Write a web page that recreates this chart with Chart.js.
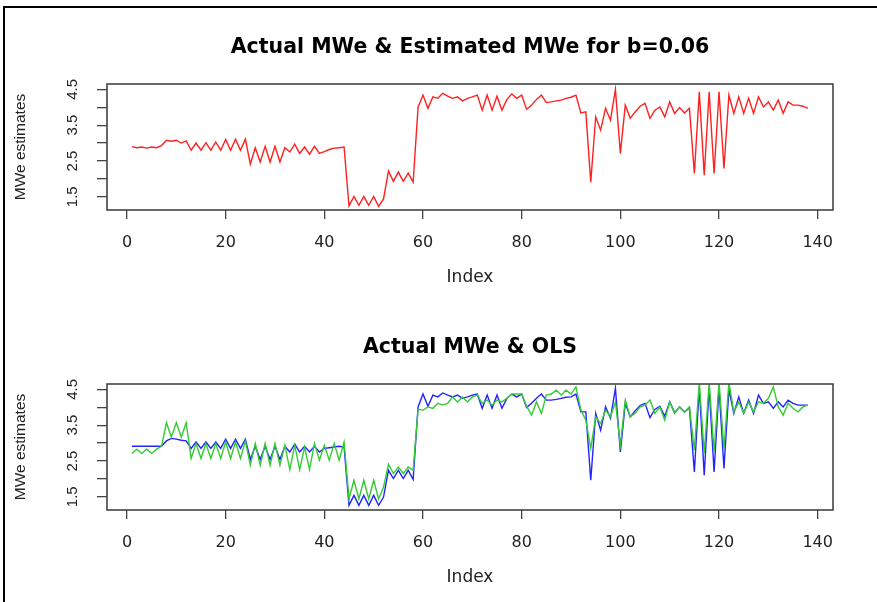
<!DOCTYPE html>
<html>
<head>
<meta charset="utf-8">
<script src="https://cdn.jsdelivr.net/npm/chart.js@4.4.1/dist/chart.umd.min.js"></script>
<style>
  html, body { margin: 0; padding: 0; background: #fff; }
  #page { position: relative; width: 877px; height: 602px; overflow: hidden; background: #fff; }
  #frame { position: absolute; left: 3px; top: 6px; right: -10px; bottom: -10px;
           border-left: 2px solid #000; border-top: 2px solid #000; }
  .panel { position: absolute; left: 0; width: 877px; height: 300px; }
</style>
</head>
<body>
<div id="page">
  <div id="frame"></div>
  <div class="panel" style="top:0px"><canvas id="topChart" width="877" height="300"></canvas></div>
  <div class="panel" style="top:300px"><canvas id="bottomChart" width="877" height="300"></canvas></div>
</div>
<script>
// tick labels
const xTicks = [0, 20, 40, 60, 80, 100, 120, 140];
const yTicks = [1.5, 2, 2.5, 3, 3.5, 4, 4.5];
const yLabels = [1.5, 2.5, 3.5, 4.5];

// estimated MWe (b=0.06), red line of the top panel
const estimatedMWe = [
  2.90, 2.87, 2.89, 2.86, 2.89, 2.87, 2.93, 3.08, 3.05, 3.08,
  3.00, 3.06, 2.80, 3.00, 2.80, 3.01, 2.80, 3.03, 2.80, 3.10,
  2.80, 3.11, 2.80, 3.11, 2.41, 2.87, 2.47, 2.91, 2.47, 2.91,
  2.47, 2.87, 2.75, 2.97, 2.71, 2.89, 2.69, 2.91, 2.71, 2.76,
  2.82, 2.86, 2.87, 2.89, 1.24, 1.51, 1.26, 1.51, 1.26, 1.51,
  1.23, 1.44, 2.22, 1.93, 2.19, 1.93, 2.16, 1.91, 4.00, 4.34,
  3.97, 4.29, 4.25, 4.39, 4.31, 4.25, 4.29, 4.18, 4.25, 4.29,
  4.34, 3.92, 4.34, 3.92, 4.31, 3.92, 4.22, 4.37, 4.25, 4.34,
  3.94, 4.06, 4.22, 4.34, 4.13, 4.15, 4.18, 4.20, 4.25, 4.28,
  4.34, 3.84, 3.87, 1.91, 3.73, 3.36, 3.97, 3.64, 4.50, 2.71,
  4.06, 3.69, 3.87, 4.03, 4.11, 3.69, 3.92, 4.01, 3.73, 4.15,
  3.83, 3.99, 3.84, 3.97, 2.15, 4.43, 2.10, 4.43, 2.15, 4.43,
  2.29, 4.34, 3.83, 4.29, 3.83, 4.25, 3.83, 4.29, 4.01, 4.15,
  3.92, 4.20, 3.83, 4.15, 4.06, 4.06, 4.03, 3.97
];

// actual MWe, blue line of the bottom panel
const actualMWe = [
  2.91, 2.91, 2.91, 2.91, 2.91, 2.91, 2.91, 3.06, 3.13, 3.11,
  3.08, 3.06, 2.85, 3.03, 2.85, 3.03, 2.85, 3.03, 2.85, 3.11,
  2.85, 3.11, 2.85, 3.11, 2.54, 2.91, 2.54, 2.91, 2.54, 2.91,
  2.54, 2.91, 2.75, 2.97, 2.75, 2.91, 2.75, 2.91, 2.75, 2.85,
  2.87, 2.89, 2.91, 2.89, 1.26, 1.54, 1.26, 1.54, 1.26, 1.54,
  1.26, 1.49, 2.24, 2.01, 2.24, 2.01, 2.24, 1.98, 4.01, 4.37,
  4.03, 4.34, 4.29, 4.40, 4.34, 4.29, 4.34, 4.25, 4.29, 4.34,
  4.37, 3.97, 4.34, 3.97, 4.34, 3.97, 4.25, 4.37, 4.29, 4.37,
  3.99, 4.11, 4.25, 4.37, 4.20, 4.20, 4.22, 4.25, 4.28, 4.29,
  4.37, 3.87, 3.87, 1.96, 3.83, 3.36, 4.01, 3.69, 4.53, 2.75,
  4.11, 3.73, 3.90, 4.05, 4.11, 3.71, 3.94, 4.03, 3.75, 4.15,
  3.85, 4.01, 3.87, 3.99, 2.19, 4.55, 2.10, 4.55, 2.19, 4.55,
  2.29, 4.50, 3.83, 4.29, 3.83, 4.20, 3.83, 4.34, 4.11, 4.15,
  3.97, 4.15, 4.01, 4.20, 4.11, 4.06, 4.06, 4.06
];

// OLS fit, green line of the bottom panel
const olsMWe = [
  2.71, 2.83, 2.71, 2.83, 2.71, 2.83, 2.91, 3.57, 3.17, 3.57,
  3.17, 3.57, 2.57, 2.99, 2.57, 2.99, 2.57, 2.99, 2.57, 3.03,
  2.57, 3.03, 2.57, 3.06, 2.38, 2.99, 2.38, 2.99, 2.38, 2.99,
  2.38, 2.94, 2.26, 2.94, 2.26, 2.89, 2.26, 2.99, 2.52, 2.94,
  2.52, 2.99, 2.52, 3.03, 1.44, 1.96, 1.44, 1.96, 1.44, 1.96,
  1.44, 1.77, 2.41, 2.15, 2.33, 2.15, 2.33, 2.24, 3.94, 3.92,
  4.01, 3.97, 4.11, 4.06, 4.11, 4.29, 4.15, 4.29, 4.15, 4.29,
  4.34, 4.11, 4.20, 4.06, 4.20, 4.15, 4.25, 4.37, 4.37, 4.37,
  4.03, 3.78, 4.15, 3.83, 4.34, 4.37, 4.48, 4.34, 4.48, 4.37,
  4.57, 3.92, 3.64, 2.85, 3.73, 3.55, 3.92, 3.73, 4.15, 2.94,
  4.20, 3.73, 3.83, 4.01, 4.06, 4.20, 3.83, 4.01, 3.64, 4.15,
  3.83, 4.01, 3.87, 4.01, 2.80, 4.70, 2.71, 4.70, 2.75, 4.70,
  2.85, 4.70, 3.87, 4.15, 3.83, 4.15, 3.87, 4.15, 4.11, 4.25,
  4.57, 4.01, 3.78, 4.11, 3.97, 3.87, 4.01, 4.06
];

// index on x (1..n), as R's plot(y) does
function toPoints(values) {
  return values.map((v, i) => ({ x: i + 1, y: v }));
}

// box round the plot region, like R's box()
const boxPlugin = {
  id: "box",
  afterDraw(chart) {
    const a = chart.chartArea;
    const ctx = chart.ctx;
    ctx.save();
    ctx.strokeStyle = "#444";
    ctx.lineWidth = 1.6;
    ctx.strokeRect(a.left, a.top, a.right - a.left, a.bottom - a.top);
    ctx.restore();
  }
};

function lineSet(label, values, color, order) {
  return {
    label: label,
    data: toPoints(values),
    borderColor: color,
    borderWidth: 1.4,
    pointRadius: 0,
    tension: 0,
    fill: false,
    order: order
  };
}

function makePanel(id, title, datasets) {
  const ctx = document.getElementById(id).getContext("2d");
  return new Chart(ctx, {
    type: "line",
    data: { datasets: datasets },
    options: {
      responsive: false,
      animation: false,
      layout: { padding: { left: 0, right: 44, top: 0, bottom: 0 } },
      plugins: {
        legend: { display: false },
        tooltip: { enabled: false },
        title: {
          display: true,
          text: title,
          fullSize: false,
          color: "#000",
          font: { family: "DejaVu Sans", size: 20.5, weight: "bold" },
          padding: { top: 35, bottom: 24.4 }
        }
      },
      scales: {
        x: {
          type: "linear",
          min: -4.05,
          max: 143.1,
          afterBuildTicks: (s) => { s.ticks = xTicks.map((v) => ({ value: v })); },
          afterFit: (s) => { s.height = 90; },
          border: { display: false },
          grid: { drawOnChartArea: false, drawTicks: true, tickLength: 9, color: "#444", lineWidth: 1.3 },
          ticks: {
            autoSkip: false, maxRotation: 0, padding: 14, color: "#222",
            font: { family: "DejaVu Sans", size: 16 }
          },
          title: {
            display: true, text: "Index", color: "#222",
            font: { family: "DejaVu Sans", size: 17 },
            padding: { top: 0, bottom: 12 }
          }
        },
        y: {
          min: 1.13,
          max: 4.65,
          afterBuildTicks: (s) => { s.ticks = yTicks.map((v) => ({ value: v })); },
          afterFit: (s) => { s.width = 107; },
          border: { display: false },
          grid: { drawOnChartArea: false, drawTicks: true, tickLength: 10, color: "#444", lineWidth: 1.3 },
          ticks: {
            autoSkip: false, minRotation: 90, maxRotation: 90, crossAlign: "center",
            padding: 14, color: "#222",
            font: { family: "Liberation Sans", size: 15 },
            callback: (v) => (yLabels.includes(v) ? v.toFixed(1) : "")
          },
          title: {
            display: true, text: "MWe estimates", color: "#222",
            font: { family: "Liberation Sans", size: 15.5 },
            padding: { top: 11, bottom: 0 }
          }
        }
      }
    },
    plugins: [boxPlugin]
  });
}

makePanel("topChart", "Actual MWe & Estimated MWe for b=0.06", [
  lineSet("Estimated MWe", estimatedMWe, "#ff2020", 0)
]);

makePanel("bottomChart", "Actual MWe & OLS", [
  lineSet("OLS", olsMWe, "#33cc33", 0),
  lineSet("Actual MWe", actualMWe, "#2323ff", 1)
]);
</script>
</body>
</html>
